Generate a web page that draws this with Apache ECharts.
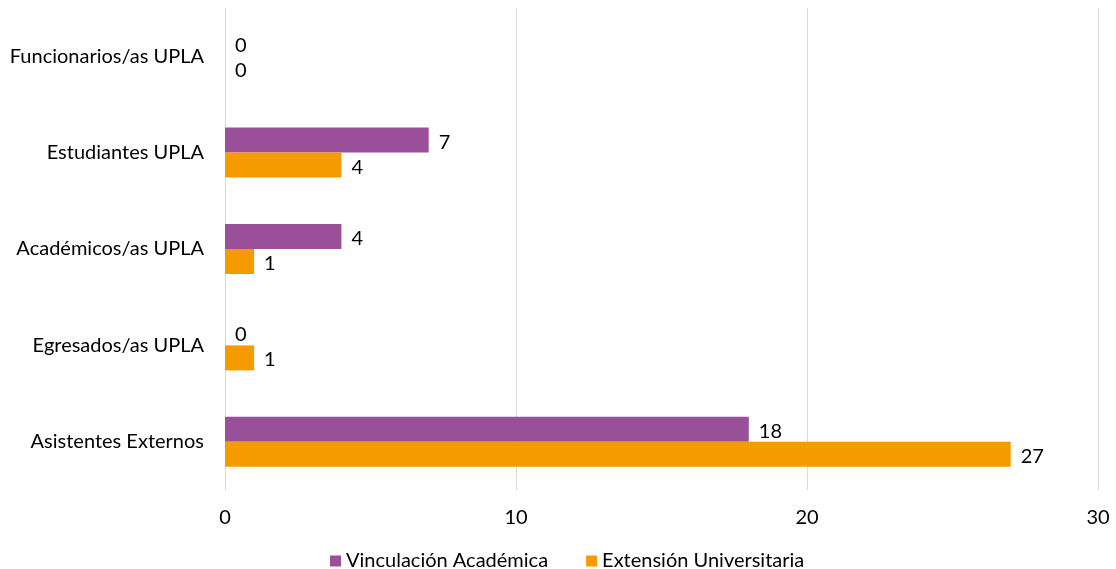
<!DOCTYPE html>
<html>
<head>
<meta charset="utf-8">
<script src="https://cdn.jsdelivr.net/npm/echarts@6/dist/echarts.min.js"></script>
<style>html,body{margin:0;padding:0;background:#fff;}#c{width:1116px;height:569px;}</style>
</head>
<body>
<div id="c"></div>
<script>
const categories = ['Funcionarios/as UPLA', 'Estudiantes UPLA', 'Académicos/as UPLA', 'Egresados/as UPLA', 'Asistentes Externos'];
const vinculacion = [0, 7, 4, 0, 18];
const extension = [0, 4, 1, 1, 27];
const seriesNames = ['Vinculación Académica', 'Extensión Universitaria'];
const xTicks = { min: 0, max: 30, interval: 10 };

const font = 'Lato, "Noto Sans", sans-serif';
const fs = 20;
const chart = echarts.init(document.getElementById('c'));
const labelCfg = { show: true, position: 'right', distance: 10, offset: [0, 2], color: '#000', fontSize: fs, fontFamily: font };
chart.setOption({
  animation: false,
  textStyle: { fontFamily: font },
  grid: { left: 225, right: 18, top: 8, bottom: 79, containLabel: false },
  legend: {
    top: 546, left: 325, itemWidth: 11, itemHeight: 11, itemGap: 38,
    icon: 'rect',
    textStyle: { fontSize: fs, color: '#000', fontFamily: font },
    data: seriesNames
  },
  xAxis: {
    type: 'value', min: xTicks.min, max: xTicks.max, interval: xTicks.interval,
    axisLine: { show: false }, axisTick: { show: false },
    splitLine: { show: true, lineStyle: { color: '#d9d9d9', width: 1 } },
    axisLabel: { color: '#000', fontSize: fs, fontFamily: font, margin: 18 }
  },
  yAxis: {
    type: 'category', data: categories, inverse: true,
    axisLine: { show: true, lineStyle: { color: '#d9d9d9' } },
    axisTick: { show: false },
    axisLabel: { color: '#000', fontSize: fs, fontFamily: font, margin: 21 }
  },
  series: [
    { name: seriesNames[0], type: 'bar', data: vinculacion, barWidth: 25, barGap: '0%',
      itemStyle: { color: '#9A5098' }, label: labelCfg },
    { name: seriesNames[1], type: 'bar', data: extension, barWidth: 25, barGap: '0%',
      itemStyle: { color: '#F59B00' }, label: labelCfg }
  ]
});
</script>
</body>
</html>
